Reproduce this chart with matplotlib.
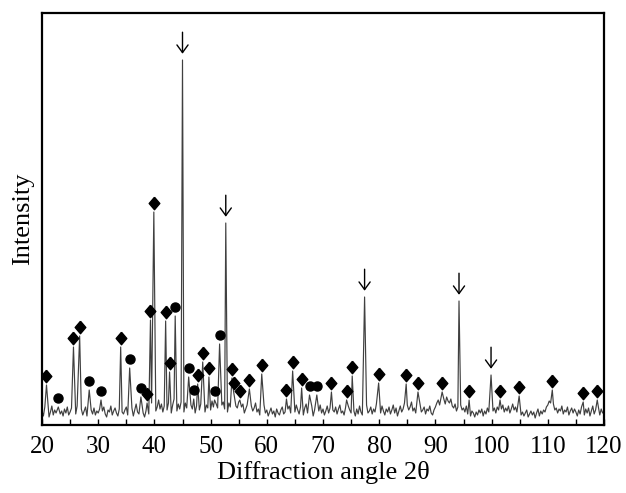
import numpy as np
import matplotlib
matplotlib.use("Agg")
import matplotlib.pyplot as plt
from matplotlib.transforms import offset_copy

plt.rcParams['font.family'] = ['Liberation Serif', 'DejaVu Serif']

# Background counts, sampled every 0.25 deg from 20 to 120
base = [
    14, 9, 18, 11, 16, 8, 13, 19, 10, 15, 12, 7, 17, 11, 14, 9, 16, 12, 18, 10,
    13, 17, 9, 15, 11, 19, 12, 8, 16, 10, 14, 18, 9, 13, 7, 15, 11, 17, 10, 14,
    12, 16, 9, 14, 18, 11, 8, 15, 13, 19, 10, 14, 17, 12, 9, 16, 20, 13, 11, 15,
    18, 10, 14, 12, 17, 9, 15, 21, 13, 11, 16, 19, 12, 8, 14, 18, 11, 15, 22, 16,
    20, 14, 18, 25, 16, 21, 13, 19, 24, 15, 22, 17, 12, 20, 26, 18, 14, 21, 16, 23,
    19, 13, 22, 17, 25, 14, 20, 16, 24, 12, 19, 23, 15, 21, 18, 26, 13, 20, 17, 22,
    15, 24, 18, 12, 21, 17, 25, 14, 20, 23, 16, 19, 13, 22, 18, 15, 21, 12, 19, 17,
    23, 14, 18, 21, 12, 16, 20, 15, 11, 19, 14, 17, 22, 13, 16, 10, 18, 14, 20, 12,
    15, 9, 13, 17, 11, 14, 8, 16, 12, 10, 15, 18, 11, 13, 9, 16, 19, 12, 14, 17,
    13, 20, 15, 11, 18, 14, 10, 17, 21, 12, 16, 13, 19, 9, 15, 18, 11, 14, 20, 12,
    16, 10, 14, 19, 12, 17, 9, 15, 13, 18, 11, 16, 20, 12, 14, 10, 17, 13, 19, 15,
    12, 18, 14, 9, 16, 11, 19, 13, 10, 17, 15, 20, 12, 14, 18, 11, 16, 13, 21, 15,
    17, 12, 19, 14, 10, 16, 13, 18, 11, 15, 20, 12, 17, 9, 14, 19, 13, 16, 22, 18,
    20, 15, 18, 23, 14, 17, 12, 19, 16, 21, 13, 15, 18, 11, 16, 14, 19, 12, 10, 15,
    18, 22, 25, 20, 27, 23, 26, 21, 28, 24, 22, 26, 19, 17, 21, 14, 18, 16, 20, 15,
    17, 13, 19, 11, 15, 9, 14, 12, 8, 13, 10, 15, 12, 16, 9, 14, 11, 17, 13, 15,
    19, 14, 17, 12, 18, 15, 11, 16, 20, 13, 17, 14, 19, 12, 16, 21, 15, 18, 13, 17,
    14, 10, 13, 9, 12, 15, 8, 11, 14, 10, 13, 7, 12, 16, 9, 14, 11, 15, 13, 18,
    20, 24, 22, 18, 21, 15, 17, 12, 16, 14, 19, 11, 15, 13, 18, 10, 14, 17, 12, 16,
    13, 9, 15, 11, 18, 14, 10, 16, 12, 17, 9, 14, 19, 11, 15, 13, 18, 10, 16, 12, 14,
]
base_2theta = 20 + 0.25 * np.arange(len(base))

# Peaks: position (2theta), intensity, phase symbol (D diamond, o circle, a arrow)
peak_2theta = [20.8, 22.9, 25.6, 26.7, 28.4, 30.5, 34.0, 35.6, 37.6, 38.7,
               39.3, 39.9, 42.0, 42.7, 43.7, 45.0, 46.1, 47.0, 47.7, 48.6,
               49.7, 50.7, 51.6, 52.7, 53.8, 54.1, 55.2, 56.9, 59.1, 63.5,
               64.6, 66.2, 67.6, 68.9, 71.5, 74.2, 75.2, 77.4, 79.9, 84.8,
               86.9, 91.2, 94.2, 96.0, 99.9, 101.5, 104.9, 110.8, 116.3, 118.8]
peak_int = [40, 18, 78, 89, 35, 25, 78, 57, 28, 22,
            105, 213, 104, 53, 109, 365, 48, 26, 41, 63,
            48, 25, 81, 202, 47, 33, 25, 36, 51, 26,
            54, 37, 30, 30, 33, 25, 49, 128, 42, 41,
            33, 33, 124, 25, 50, 25, 29, 35, 23, 25]
peak_phase = ['D', 'o', 'D', 'D', 'o', 'o', 'D', 'o', 'o', 'D',
              'D', 'D', 'D', 'D', 'o', 'a', 'o', 'o', 'D', 'D',
              'D', 'o', 'o', 'a', 'D', 'D', 'D', 'D', 'D', 'D',
              'D', 'D', 'o', 'o', 'D', 'D', 'D', 'a', 'D', 'D',
              'D', 'D', 'a', 'D', 'a', 'D', 'D', 'D', 'D', 'D']

px = np.array(peak_2theta)
py = np.array(peak_int)
ph = np.array(peak_phase)

# drop the background sample right under a peak top so the peaks get some body
keep = np.min(np.abs(base_2theta[:, None] - px[None, :]), axis=1) > 0.2
x = np.concatenate([base_2theta[keep], px])
y = np.concatenate([np.array(base)[keep], py])
order = np.argsort(x)
x, y = x[order], y[order]

fig = plt.figure(figsize=(6.26, 4.93), dpi=100)
ax = fig.add_axes([42/626, 68/493, 562/626, 412/493])

ax.plot(x, y, color='#404040', lw=0.85)

above = offset_copy(ax.transData, fig=fig, y=6.8, units='points')

diamond = [(0, 1), (0.85, 0), (0, -1), (-0.85, 0), (0, 1)]
ax.plot(px[ph == 'D'], py[ph == 'D'], ls='none', marker=diamond, ms=9,
        color='black', transform=above)
ax.plot(px[ph == 'o'], py[ph == 'o'], ls='none', marker='o', ms=6.5,
        color='black', transform=above)

for xa, ya in zip(px[ph == 'a'], py[ph == 'a']):
    ax.annotate('', xy=(xa, ya), xytext=(0, 20), textcoords='offset points',
                arrowprops=dict(arrowstyle='->,head_length=0.55,head_width=0.4',
                                color='black', lw=1.0, shrinkA=0, shrinkB=4.5))

ax.set_xlim(20, 120)
ax.set_ylim(0, 412)
ax.set_xticks(np.arange(20, 121, 10))
ax.set_xticks(np.arange(25, 120, 10), minor=True)
ax.set_yticks([])
ax.tick_params(axis='x', which='both', direction='in', length=4, width=1,
               labelsize=18, pad=8)
for s in ax.spines.values():
    s.set_linewidth(1.6)

ax.set_xlabel('Diffraction angle 2θ', fontsize=19, labelpad=2)
ax.set_ylabel('Intensity', fontsize=19, labelpad=6)

plt.savefig('out.png', dpi=100)
